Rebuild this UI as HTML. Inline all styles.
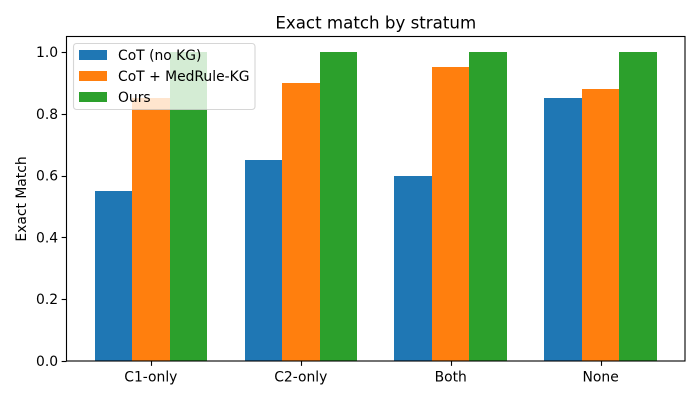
<!DOCTYPE html>
<html>
<head>
<meta charset="utf-8">
<style>
html,body{margin:0;padding:0;background:#fff;width:700px;height:400px;overflow:hidden}
svg{display:block}
text{font-family:"DejaVu Sans","Liberation Sans",sans-serif;fill:#000}
</style>
</head>
<body>
<svg id="chart" xmlns="http://www.w3.org/2000/svg" width="700" height="400" viewBox="0 0 700 400"></svg>
<script>
const categories = ["C1-only", "C2-only", "Both", "None"];
const seriesNames = ["CoT (no KG)", "CoT + MedRule-KG", "Ours"];
const cotValues = [0.55, 0.65, 0.6, 0.85];
const medRuleValues = [0.85, 0.9, 0.95, 0.88];
const oursValues = [1.0, 1.0, 1.0, 1.0];
const yTickLabels = ["0.0", "0.2", "0.4", "0.6", "0.8", "1.0"];
const chartTitle = "Exact match by stratum";
const yAxisTitle = "Exact Match";

const NS = "http://www.w3.org/2000/svg";
const svg = document.getElementById("chart");
const left = 66.5, right = 685, top_ = 36.5, bottom = 361;
const seriesValues = [cotValues, medRuleValues, oursValues];
const colors = ["#1f77b4", "#ff7f0e", "#2ca02c"];
const barWidth = 0.25;
const yMax = 1.05;
const xMin = -0.5625, xMax = categories.length - 1 + 0.5625;

function xScale(v) { return left + (v - xMin) / (xMax - xMin) * (right - left); }
function yScale(v) { return bottom - v / yMax * (bottom - top_); }
function make(tag, attrs, parent) {
  const el = document.createElementNS(NS, tag);
  for (const k in attrs) el.setAttribute(k, attrs[k]);
  (parent || svg).appendChild(el);
  return el;
}

const bg = make("rect", {x: left, y: top_, width: right - left, height: bottom - top_, fill: "#fff"});



seriesValues.forEach(function (values, s) {
  const group = make("g", {fill: colors[s], "shape-rendering": "crispEdges"});
  
  
  values.forEach(function (v, i) {
    const c = i + (s - 1) * barWidth;
    const x0 = Math.round(xScale(c - barWidth / 2)), x1 = Math.round(xScale(c + barWidth / 2));
    const yTop = Math.round(yScale(v));
    const bar = make("rect", {x: x0, y: yTop, width: x1 - x0, height: bottom - yTop}, group);
    
    
  });
});

yTickLabels.forEach(function (label) {
  const v = parseFloat(label);
  const y = Math.round(yScale(v)) + 0.5;
  const tick = make("line", {x1: left - 4.86, x2: left, y1: y, y2: y, stroke: "#000", "stroke-width": 1.11});
  
  
  const t = make("text", {x: left - 8.4, y: yScale(v) + 5, "text-anchor": "end", "font-size": 13.89});
  t.textContent = label;
  
  
});

categories.forEach(function (label, i) {
  const x = Math.round(xScale(i)) + 0.5;
  const tick = make("line", {x1: x, x2: x, y1: bottom, y2: bottom + 4.86, stroke: "#000", "stroke-width": 1.11});
  
  
  const t = make("text", {x: xScale(i), y: 381.5, "text-anchor": "middle", "font-size": 13.89});
  t.textContent = label;
  
  
});

const frame = make("rect", {x: left, y: top_, width: right - left, height: bottom - top_, fill: "none", stroke: "#000", "stroke-width": 1.11});



const title = make("text", {x: (left + right) / 2, y: 28.5, "text-anchor": "middle", "font-size": 16.67});
title.textContent = chartTitle;



const yTitle = make("text", {transform: "translate(26 199) rotate(-90)", "text-anchor": "middle", "font-size": 13.89});
yTitle.textContent = yAxisTitle;



const legend = make("g", {});


const legendBox = make("rect", {x: 73.5, y: 43.5, width: 181.5, height: 66, rx: 3, ry: 3, fill: "#fff", "fill-opacity": 0.8, stroke: "#ccc", "stroke-opacity": 0.8, "stroke-width": 1.11}, legend);


seriesNames.forEach(function (name, s) {
  const rowY = 50 + s * 21;
  const swatch = make("rect", {x: 79, y: rowY, width: 28, height: 10, fill: colors[s], "shape-rendering": "crispEdges"}, legend);
  
  
  const t = make("text", {x: 118, y: rowY + 10, "font-size": 13.89}, legend);
  t.textContent = name;
  
  
});
</script>
</body>
</html>
